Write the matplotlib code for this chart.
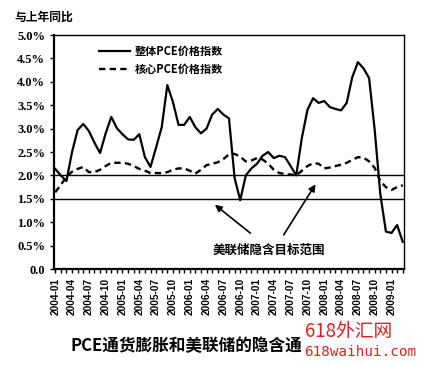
import numpy as np
import pandas as pd
import matplotlib
matplotlib.use("Agg")
import matplotlib.pyplot as plt

plt.rcParams['font.family'] = ['Noto Sans CJK SC', 'DejaVu Sans']

# monthly, 2004-01 .. 2009-03
months = pd.period_range("2004-01", "2009-03", freq="M")
headline = [2.14, 2.00, 1.88, 2.50, 2.97, 3.10, 2.95, 2.70, 2.48, 2.90,
            3.25, 3.01, 2.88, 2.77, 2.76, 2.88, 2.39, 2.18, 2.60, 3.03,
            3.93, 3.57, 3.08, 3.08, 3.25, 3.03, 2.90, 3.00, 3.30, 3.42,
            3.30, 3.22, 1.95, 1.47, 2.00, 2.15, 2.25, 2.42, 2.50, 2.37,
            2.42, 2.39, 2.20, 2.00, 2.80, 3.40, 3.65, 3.55, 3.59, 3.46,
            3.42, 3.39, 3.55, 4.10, 4.42, 4.29, 4.08, 2.97, 1.60, 0.80,
            0.77, 0.94, 0.58]
core = [1.64, 1.80, 1.97, 2.08, 2.14, 2.18, 2.07, 2.07, 2.12, 2.20,
        2.27, 2.27, 2.27, 2.25, 2.20, 2.14, 2.10, 2.05, 2.05, 2.05,
        2.07, 2.12, 2.15, 2.15, 2.10, 2.04, 2.12, 2.22, 2.25, 2.28,
        2.35, 2.45, 2.46, 2.40, 2.30, 2.32, 2.37, 2.34, 2.25, 2.12,
        2.05, 2.03, 2.02, 2.00, 2.10, 2.20, 2.26, 2.25, 2.15, 2.17,
        2.20, 2.23, 2.27, 2.33, 2.39, 2.38, 2.30, 2.16, 1.88, 1.75,
        1.69, 1.75, 1.79]
target_band = [1.5, 2.0]
yticks = [0.0, 0.5, 1.0, 1.5, 2.0, 2.5, 3.0, 3.5, 4.0, 4.5, 5.0]

x = np.arange(len(months))
labels = [p.strftime("%Y-%m") for p in months]

fig = plt.figure(figsize=(4.26, 3.65), dpi=100)
ax = fig.add_axes([0.127, 0.263, 0.821, 0.641])

ax.plot(x, headline, color='black', lw=1.6, label='整体PCE价格指数')
ax.plot(x, core, color='black', lw=1.7, linestyle=(0, (2.7, 1.8)),
        label='核心PCE价格指数')
for v in target_band:
    ax.axhline(v, color='black', lw=1.0)

ax.set_xlim(-0.2, len(months) - 0.8)
ax.set_ylim(0, 5.0)

ax.set_yticks(yticks)
ax.set_yticklabels(["0.0"] + [f"{v:.1f}%" for v in yticks[1:]],
                   family='Liberation Serif', fontweight='bold', fontsize=9)
ax.set_xticks(x[::3])
ax.set_xticklabels(labels[::3], rotation=90, family='Liberation Sans',
                   fontweight='bold', fontsize=7.3)
ax.set_xticks(x, minor=True)
ax.tick_params(axis='x', which='both', direction='out', length=3, width=1)
ax.tick_params(axis='y', direction='out', length=3, width=1)

for s in ['left', 'bottom']:
    ax.spines[s].set_linewidth(1.6)
for s in ['top', 'right']:
    ax.spines[s].set_linewidth(1.0)

leg = ax.legend(loc='upper left', bbox_to_anchor=(0.1, 1.0), frameon=False,
                handlelength=2.8, handletextpad=0.4, labelspacing=0.45,
                prop={'family': ['Noto Sans CJK SC', 'DejaVu Sans'],
                      'weight': 'bold', 'size': 8})

ax.annotate('', xy=(28.1, 1.41), xytext=(35.2, 0.73),
            arrowprops=dict(arrowstyle='-|>', color='black', lw=1.2,
                            mutation_scale=10))
ax.annotate('', xy=(46.7, 1.86), xytext=(40.5, 0.68),
            arrowprops=dict(arrowstyle='-|>', color='black', lw=1.2,
                            mutation_scale=10))
ax.text(38.2, 0.41, '美联储隐含目标范围', ha='center', va='center',
        fontsize=9, fontweight='bold')

fig.text(0.033, 0.953, '与上年同比', fontsize=8.5, fontweight='bold',
         ha='left', va='center')
# title is partly hidden behind the watermark in the source image
fig.text(0.165, 0.052, 'PCE通货膨胀和美联储的隐含通', fontsize=12,
         fontweight='bold', ha='left', va='center')
fig.text(0.716, 0.092, '618外汇网', fontsize=13.5, color='#e02020',
         ha='left', va='center')
fig.text(0.715, 0.036, '618waihui.com', fontsize=10.3, color='#e02020',
         ha='left', va='center', family=['DejaVu Sans Mono'])

fig.savefig("out.png", dpi=100, facecolor='white')
